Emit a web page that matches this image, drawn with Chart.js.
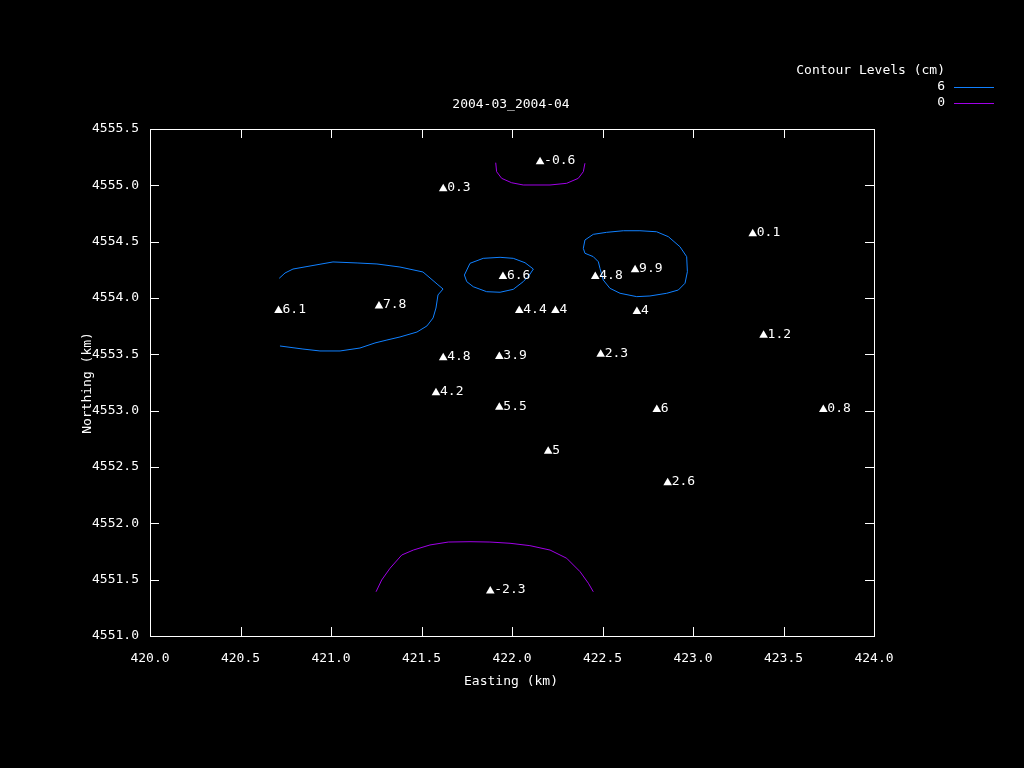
<!DOCTYPE html>
<html>
<head>
<meta charset="utf-8">
<script src="https://cdn.jsdelivr.net/npm/chart.js@4"></script>
<style>
  body { margin: 0; background: #000; }
  canvas { display: block; }
</style>
</head>
<body>
<canvas id="js--chart--1" width="1024" height="768"></canvas>
<script>
// station positions (km) and values (cm)
const stationE = [420.71, 421.265, 422.155, 421.62, 421.95, 422.46, 422.68, 423.33, 422.04, 422.24, 422.69, 423.39,
                  421.62, 421.93, 422.49, 421.58, 421.93, 422.80, 423.72, 422.20, 422.86, 421.88];
const stationN = [4553.89, 4553.93, 4555.21, 4554.97, 4554.19, 4554.19, 4554.25, 4554.57, 4553.89, 4553.89, 4553.88, 4553.67,
                  4553.47, 4553.48, 4553.50, 4553.16, 4553.03, 4553.01, 4553.01, 4552.64, 4552.36, 4551.40];
const stationVal = ["6.1", "7.8", "-0.6", "0.3", "6.6", "4.8", "9.9", "0.1", "4.4", "4", "4", "1.2",
                    "4.8", "3.9", "2.3", "4.2", "5.5", "6", "0.8", "5", "2.6", "-2.3"];

// contour level 6 cm
const c6aE = [420.714, 420.746, 420.790, 420.884, 421.011, 421.144, 421.254, 421.381, 421.508, 421.547, 421.586, 421.619,
              421.591, 421.580, 421.564, 421.530, 421.475, 421.381, 421.309, 421.243, 421.160, 421.050, 420.939, 420.845, 420.718];
const c6aN = [4554.175, 4554.222, 4554.257, 4554.284, 4554.320, 4554.311, 4554.302, 4554.275, 4554.231, 4554.178, 4554.124, 4554.080,
              4554.027, 4553.911, 4553.823, 4553.752, 4553.698, 4553.654, 4553.627, 4553.601, 4553.556, 4553.530, 4553.530, 4553.547, 4553.574];
const c6bE = [421.737, 421.768, 421.841, 421.934, 422.007, 422.072, 422.118, 422.096, 422.062, 422.007, 421.934, 421.860, 421.786, 421.750, 421.737];
const c6bN = [4554.204, 4554.308, 4554.352, 4554.361, 4554.352, 4554.313, 4554.257, 4554.204, 4554.145, 4554.077, 4554.051, 4554.056, 4554.100, 4554.145, 4554.204];
const c6cE = [422.394, 422.403, 422.449, 422.523, 422.615, 422.707, 422.799, 422.864, 422.928, 422.965, 422.969, 422.956, 422.919,
              422.855, 422.762, 422.689, 422.597, 422.541, 422.504, 422.486, 422.477, 422.449, 422.403, 422.394];
const c6cN = [4554.441, 4554.515, 4554.565, 4554.583, 4554.597, 4554.597, 4554.588, 4554.544, 4554.455, 4554.367, 4554.233, 4554.131, 4554.071,
              4554.042, 4554.018, 4554.012, 4554.042, 4554.086, 4554.160, 4554.264, 4554.322, 4554.367, 4554.397, 4554.441];
// contour level 0 cm
const c0aE = [421.910, 421.915, 421.943, 421.998, 422.062, 422.210, 422.302, 422.366, 422.394, 422.403];
const c0aN = [4555.201, 4555.121, 4555.062, 4555.023, 4555.003, 4555.003, 4555.018, 4555.062, 4555.121, 4555.196];
const c0bE = [421.249, 421.280, 421.326, 421.391, 421.455, 421.547, 421.648, 421.768, 421.878, 421.989, 422.099, 422.210, 422.302, 422.376, 422.422, 422.449];
const c0bN = [4551.393, 4551.497, 4551.601, 4551.719, 4551.763, 4551.808, 4551.834, 4551.837, 4551.834, 4551.823, 4551.802, 4551.763, 4551.690, 4551.571, 4551.468, 4551.393];

const levels = ["6", "0"];
const levelColors = ["#1080ff", "#a000e8"];

function pts(xs, ys) {
  return xs.map(function (x, i) { return { x: x, y: ys[i] }; });
}

function contour(xs, ys, color) {
  return {
    data: pts(xs, ys),
    showLine: true,
    borderColor: color,
    borderWidth: 1,
    pointRadius: 0,
    tension: 0,
    fill: false
  };
}

const data = {
  datasets: [
    contour(c6aE, c6aN, levelColors[0]),
    contour(c6bE, c6bN, levelColors[0]),
    contour(c6cE, c6cN, levelColors[0]),
    contour(c0aE, c0aN, levelColors[1]),
    contour(c0bE, c0bN, levelColors[1]),
    {
      data: pts(stationE, stationN),
      pointStyle: 'triangle',
      pointRadius: 5,
      backgroundColor: '#ffffff',
      borderColor: '#ffffff',
      borderWidth: 0,
      showLine: false
    }
  ]
};

const FONT = '13px "DejaVu Sans Mono"';

// frame, inward ticks, point labels, titles and legend, gnuplot style
const gnuplotDecor = {
  id: 'gnuplotDecor',
  afterDatasetsDraw(chart) {
    const ctx = chart.ctx;
    const a = chart.chartArea;
    const xs = chart.scales.x, ys = chart.scales.y;
    ctx.save();
    ctx.strokeStyle = '#ffffff';
    ctx.lineWidth = 1;
    ctx.strokeRect(a.left + 0.5, a.top + 0.5, a.right - a.left, a.bottom - a.top);
    ctx.beginPath();
    xs.ticks.forEach(function (t) {
      const px = Math.round(xs.getPixelForValue(t.value)) + 0.5;
      ctx.moveTo(px, a.bottom); ctx.lineTo(px, a.bottom - 9);
      ctx.moveTo(px, a.top); ctx.lineTo(px, a.top + 9);
    });
    ys.ticks.forEach(function (t) {
      const py = Math.round(ys.getPixelForValue(t.value)) + 0.5;
      ctx.moveTo(a.left, py); ctx.lineTo(a.left + 9, py);
      ctx.moveTo(a.right, py); ctx.lineTo(a.right - 9, py);
    });
    ctx.stroke();

    ctx.fillStyle = '#ffffff';
    ctx.font = FONT;
    ctx.textBaseline = 'middle';
    ctx.textAlign = 'left';
    stationVal.forEach(function (v, i) {
      const px = xs.getPixelForValue(stationE[i]);
      const py = ys.getPixelForValue(stationN[i]);
      ctx.fillText(v, px + 4, py - 1);
    });

    ctx.textAlign = 'center';
    ctx.fillText('2004-03_2004-04', 511, 105);
    ctx.fillText('Easting (km)', 511, 682);
    ctx.save();
    ctx.translate(88, 383);
    ctx.rotate(-Math.PI / 2);
    ctx.fillText('Northing (km)', 0, 0);
    ctx.restore();

    ctx.textAlign = 'right';
    ctx.fillText('Contour Levels (cm)', 945, 71);
    levels.forEach(function (lv, i) {
      const y = 87 + i * 16;
      ctx.fillText(lv, 945, y);
      ctx.strokeStyle = levelColors[i];
      ctx.beginPath();
      ctx.moveTo(954, y + 0.5);
      ctx.lineTo(994, y + 0.5);
      ctx.stroke();
    });
    ctx.restore();
  }
};

const config = {
  type: 'scatter',
  data: data,
  options: {
    responsive: false,
    animation: false,
    layout: { padding: { top: 129, right: 150, left: 0, bottom: 0 } },
    plugins: {
      legend: { display: false },
      title: { display: false },
      tooltip: { enabled: false }
    },
    scales: {
      x: {
        type: 'linear',
        min: 420, max: 424,
        grid: { display: false, drawTicks: false },
        border: { display: false },
        ticks: {
          stepSize: 0.5, color: '#ffffff', padding: 15,
          font: { family: 'DejaVu Sans Mono', size: 13 },
          maxRotation: 0, autoSkip: false,
          callback: function (v) { return v.toFixed(1); }
        },
        afterFit: function (s) { s.height = 132; }
      },
      y: {
        type: 'linear',
        min: 4551, max: 4555.5,
        grid: { display: false, drawTicks: false },
        border: { display: false },
        ticks: {
          stepSize: 0.5, color: '#ffffff', padding: 11,
          font: { family: 'DejaVu Sans Mono', size: 13 },
          autoSkip: false,
          callback: function (v) { return v.toFixed(1); }
        },
        afterFit: function (s) { s.width = 150; }
      }
    }
  },
  plugins: [gnuplotDecor]
};

new Chart(document.getElementById("js--chart--1"), config);
</script>
</body>
</html>
